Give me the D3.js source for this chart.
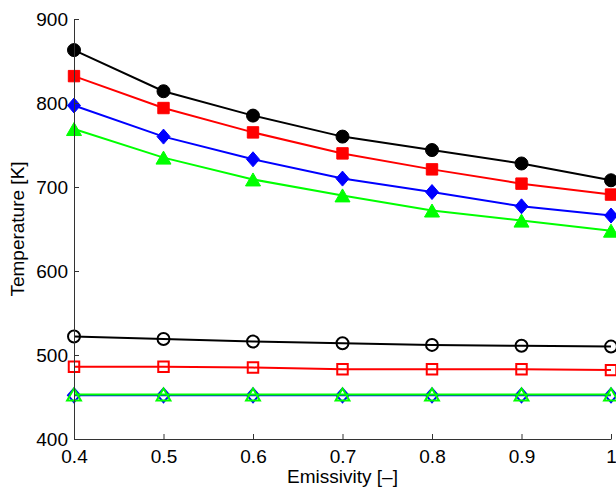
<!DOCTYPE html>
<html>
  <head>
    <meta charset="UTF-8" />
    <title>Temperature vs emissivity</title>
    <script src="https://d3js.org/d3.v7.min.js"></script>
    <style>
      body { margin: 0; background: #fff; }
      text { font-family: "Liberation Sans", Arial, sans-serif; }
    </style>
  </head>
  <body>
    <div id="chart"></div>
    <script>
      // data
      const emissivity = [0.4, 0.5, 0.6, 0.7, 0.8, 0.9, 1.0];

      const blackFilled = [863, 814, 785, 760, 744, 728, 708];
      const redFilled = [832, 794, 765, 740, 721, 704, 691];
      const blueFilled = [797, 760, 733, 710, 694, 677, 666];
      const greenFilled = [769, 735, 709, 690, 672, 660, 648];

      const blackOpen = [522, 519, 516, 514, 512, 511, 510];
      const redOpen = [486, 486, 485, 483, 483, 483, 482];
      const blueOpen = [452, 452, 452, 452, 452, 452, 452];
      const greenOpen = [453, 453, 453, 453, 453, 453, 453];

      const xTicks = [0.4, 0.5, 0.6, 0.7, 0.8, 0.9, 1];
      const yTicks = [400, 500, 600, 700, 800, 900];

      const series = [
        { values: blackFilled, color: "#000", marker: "circle", filled: true },
        { values: redFilled, color: "#f00", marker: "square", filled: true },
        { values: blueFilled, color: "#00f", marker: "diamond", filled: true },
        { values: greenFilled, color: "#0f0", marker: "triangle", filled: true },
        { values: blackOpen, color: "#000", marker: "circle", filled: false },
        { values: redOpen, color: "#f00", marker: "square", filled: false },
        { values: blueOpen, color: "#00f", marker: "diamond", filled: false },
        { values: greenOpen, color: "#0f0", marker: "triangle", filled: false },
      ];

      const width = 616, height = 496;
      const margin = { left: 74, right: 5, top: 19, bottom: 57 };

      const x = d3.scaleLinear().domain([0.4, 1]).range([margin.left, width - margin.right]);
      const y = d3.scaleLinear().domain([400, 900]).range([height - margin.bottom, margin.top]);

      const svg = d3.select("#chart").append("svg")
        .attr("width", width).attr("height", height);

      // marker shapes, centred on 0,0
      function markerPath(type, filled) {
        const s = filled ? 1 : 0.92;
        if (type == "circle") {
          const r = 6.5 * s;
          return `M${r},0A${r},${r} 0 1,1 ${-r},0A${r},${r} 0 1,1 ${r},0Z`;
        }
        if (type == "square") {
          const h = 5.7 * s;
          return `M${-h},${-h}H${h}V${h}H${-h}Z`;
        }
        if (type == "diamond") {
          const w = 6.5 * s, h = 7.5 * s;
          return `M0,${-h}L${w},0L0,${h}L${-w},0Z`;
        }
        const w = 7.5 * s, h = 6.5 * s;
        return `M0,${-h}L${w},${h}L${-w},${h}Z`;
      }

      const line = d3.line().x((d) => x(d[0])).y((d) => y(d[1]));

      series.forEach((s) => {
        const pts = emissivity.map((e, i) => [e, s.values[i]]);
        const g = svg.append("g");
        g.append("path")
          .attr("d", line(pts))
          .attr("fill", "none")
          .attr("stroke", s.color)
          .attr("stroke-width", 2);
        g.selectAll("path.m")
          .data(pts)
          .enter()
          .append("path")
          .attr("class", "m")
          .attr("transform", (d) => `translate(${x(d[0])},${y(d[1])})`)
          .attr("d", markerPath(s.marker, s.filled))
          .attr("fill", s.filled ? s.color : "none")
          .attr("stroke", s.color)
          .attr("stroke-width", s.filled ? 1 : 2);
      });

      // axes (MATLAB style, ticks inside, no box)
      const xAxis = d3.axisBottom(x).tickValues(xTicks)
        .tickFormat((d) => (d == 1 ? "1" : d3.format(".1f")(d)))
        .tickSizeInner(-5).tickSizeOuter(0).tickPadding(11);
      const yAxis = d3.axisLeft(y).tickValues(yTicks)
        .tickSizeInner(-5).tickSizeOuter(0).tickPadding(6);

      const gx = svg.append("g")
        .attr("transform", `translate(0,${y(400)})`)
        .call(xAxis);
      const gy = svg.append("g")
        .attr("transform", `translate(${x(0.4)},0)`)
        .call(yAxis);

      [gx, gy].forEach((g) => {
        g.select(".domain").attr("stroke", "#333").attr("stroke-width", 1);
        g.selectAll(".tick line").attr("stroke", "#333");
        g.selectAll(".tick text")
          .attr("fill", "#000")
          .style("font-size", "19px")
          .style("font-family", '"Liberation Sans", Arial, sans-serif');
      });

      svg.append("text")
        .attr("x", (x(0.4) + x(1)) / 2)
        .attr("y", 483)
        .attr("text-anchor", "middle")
        .style("font-size", "19px")
        .text("Emissivity [–]");

      svg.append("text")
        .attr("transform", `translate(24,${(y(400) + y(900)) / 2}) rotate(-90)`)
        .attr("text-anchor", "middle")
        .style("font-size", "19px")
        .text("Temperature [K]");
    </script>
  </body>
</html>
